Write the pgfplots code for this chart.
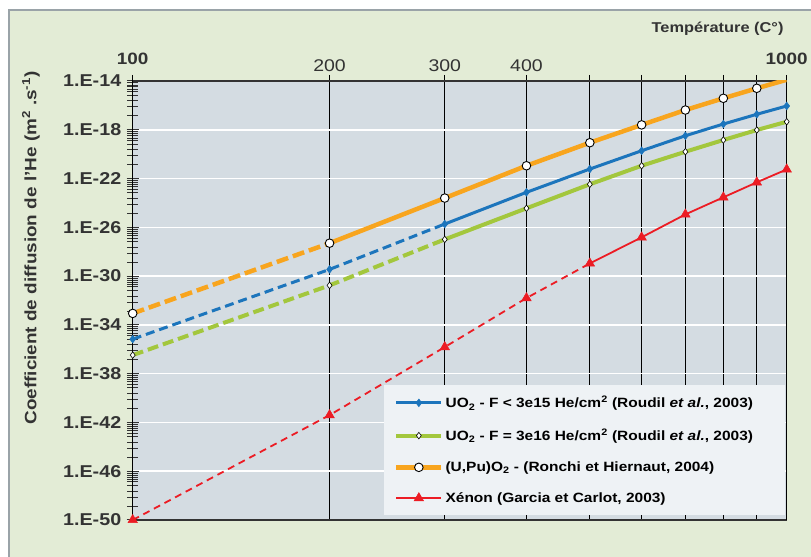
\documentclass[border=0pt]{standalone}
\usepackage{fontspec}
\setmainfont{Liberation Sans}[FakeStretch=1.15]
\usepackage{pgfplots}
\usepackage{pgfplotstable}
\pgfplotsset{compat=1.18}
\definecolor{outerbg}{HTML}{E3ECD6}
\definecolor{framegray}{HTML}{9AA3A8}
\definecolor{plotbg}{HTML}{D4DCE2}
\definecolor{legbg}{HTML}{EEF2F5}
\definecolor{axisgray}{HTML}{333333}
\definecolor{heblue}{HTML}{1C75BC}
\definecolor{hegreen}{HTML}{A3C73D}
\definecolor{heorange}{HTML}{F8A51E}
\definecolor{xered}{HTML}{EC1C24}

% log10 of D (m2/s), x in degrees C
\pgfplotstableread{
T     uo2a    uo2b    upu     xe
100   -35.17  -36.48  -33.06  -50.00
200   -29.45  -30.76  -27.30  -41.40
300   -25.73  -26.99  -23.60  -35.82
400   -23.13  -24.44  -20.95  -31.80
500   -21.22  -22.47  -19.06  -28.96
600   -19.72  -20.95  -17.60  -26.82
700   -18.49  -19.80  -16.38  -24.94
800   -17.53  -18.84  -15.42  -23.54
900   -16.73  -18.02  -14.60  -22.31
1000  -16.05  -17.34  -13.90  -21.25
}\diffdata

\begin{document}
\begin{tikzpicture}
\useasboundingbox (0,0) rectangle (811bp,557bp);
\begin{scope}
\clip (0,0) rectangle (811bp,557bp);
\fill[white] (0,0) rectangle (811bp,557bp);
\draw[fill=outerbg, draw=framegray, line width=1.5bp] (9bp,-10bp) rectangle (830bp,547bp);
\end{scope}

\begin{axis}[
  at={(132.7bp,37bp)}, anchor=south west,
  width=654bp, height=439bp, scale only axis,
  xmode=log, xmin=100, xmax=1000,
  ymin=-50, ymax=-14,
  axis background/.style={fill=plotbg},
  axis line style={axisgray, line width=1.2bp},
  tick align=center,
  major tick length=12bp, minor tick length=11bp,
  xtick={200,300,400,500,600,700,800,900},
  xticklabels={200,300,400,,,,,},
  minor xtick={},
  extra x ticks={100,1000},
  extra x tick labels={100,1000},
  extra x tick style={xticklabel style={font=\bfseries\fontsize{16.5}{18}\selectfont, yshift=7bp}},
  xtick pos=right, xticklabel pos=right,
  xticklabel style={font=\fontsize{17}{19}\selectfont, text=axisgray},
  xtick style={black, line width=1.2bp},
  xmajorgrids, x grid style={black, line width=1.2bp},
  ytick={-50,-46,...,-14},
  yticklabels={1.E-50,1.E-46,1.E-42,1.E-38,1.E-34,1.E-30,1.E-26,1.E-22,1.E-18,1.E-14},
  minor ytick={-14.16,-14.33,-14.49,-14.68,-14.88,-15.17,-15.64,-16.13,-16.87,
    -18.16,-18.33,-18.49,-18.68,-18.88,-19.17,-19.64,-20.13,-20.87,
    -22.16,-22.33,-22.49,-22.68,-22.88,-23.17,-23.64,-24.13,-24.87,
    -26.16,-26.33,-26.49,-26.68,-26.88,-27.17,-27.64,-28.13,-28.87,
    -30.16,-30.33,-30.49,-30.68,-30.88,-31.17,-31.64,-32.13,-32.87,
    -34.16,-34.33,-34.49,-34.68,-34.88,-35.17,-35.64,-36.13,-36.87,
    -38.16,-38.33,-38.49,-38.68,-38.88,-39.17,-39.64,-40.13,-40.87,
    -42.16,-42.33,-42.49,-42.68,-42.88,-43.17,-43.64,-44.13,-44.87,
    -46.16,-46.33,-46.49,-46.68,-46.88,-47.17,-47.64,-48.13,-48.87},
  ytick pos=left,
  yticklabel style={font=\bfseries\fontsize{17.2}{19}\selectfont, text=axisgray, xshift=-2bp},
  ytick style={axisgray, line width=1bp},
  ymajorgrids, y grid style={white, line width=1.5bp},
  legend cell align=left,
  legend image code/.code={\draw[mark repeat=2,mark phase=2] plot coordinates {(0bp,0bp) (22.5bp,0bp) (45bp,0bp)};},
  legend style={at={(axis description cs:1,0)}, anchor=south east, xshift=-1.5bp, yshift=5bp,
    fill=legbg, draw=none, font=\bfseries\fontsize{13.5}{15}\selectfont,
    row sep=15.5bp, inner xsep=10bp, inner ysep=9bp},
]
% lines: dashed extrapolation, solid measured range
\addplot[forget plot, heorange, line width=4.5bp, dash pattern=on 12bp off 5bp]
  table[x=T, y=upu, skip coords between index={2}{10}] {\diffdata};
\addplot[forget plot, heorange, line width=4.5bp]
  table[x=T, y=upu, skip coords between index={0}{1}] {\diffdata};
\addplot[forget plot, hegreen, line width=4bp, dash pattern=on 11bp off 5bp]
  table[x=T, y=uo2b, skip coords between index={3}{10}] {\diffdata};
\addplot[forget plot, hegreen, line width=4bp]
  table[x=T, y=uo2b, skip coords between index={0}{2}] {\diffdata};
\addplot[forget plot, heblue, line width=3bp, dash pattern=on 9bp off 5bp]
  table[x=T, y=uo2a, skip coords between index={3}{10}] {\diffdata};
\addplot[forget plot, heblue, line width=3bp]
  table[x=T, y=uo2a, skip coords between index={0}{2}] {\diffdata};
\addplot[forget plot, xered, line width=1.8bp, dash pattern=on 7bp off 5bp]
  table[x=T, y=xe, skip coords between index={5}{10}] {\diffdata};
\addplot[forget plot, xered, line width=1.8bp]
  table[x=T, y=xe, skip coords between index={0}{4}] {\diffdata};
% markers
\addplot[forget plot, only marks, mark=*, mark size=4.3bp, mark options={fill=white, draw=black, line width=0.9bp}]
  table[x=T, y=upu, skip coords between index={9}{10}] {\diffdata};
\addplot[forget plot, only marks, mark=diamond*, mark size=3.3bp, mark options={fill=white, draw=black, line width=0.6bp}]
  table[x=T, y=uo2b] {\diffdata};
\addplot[forget plot, only marks, mark=diamond*, mark size=3.8bp, mark options={fill=heblue, draw=heblue, line width=0.6bp}]
  table[x=T, y=uo2a] {\diffdata};
\addplot[forget plot, only marks, mark=triangle*, mark size=5.5bp, mark options={fill=xered, draw=xered, line width=0.5bp}]
  table[x=T, y=xe] {\diffdata};

\addlegendimage{heblue, line width=3bp, mark=diamond*, mark size=3.8bp, mark options={fill=heblue, draw=heblue, line width=0.6bp}}
\addlegendentry{UO\textsubscript{2} - F < 3e15 He/cm\textsuperscript{2} (Roudil \textit{et al.}, 2003)\hspace*{20bp}}
\addlegendimage{hegreen, line width=4bp, mark=diamond*, mark size=3.3bp, mark options={fill=white, draw=black, line width=0.6bp}}
\addlegendentry{UO\textsubscript{2} - F = 3e16 He/cm\textsuperscript{2} (Roudil \textit{et al.}, 2003)}
\addlegendimage{heorange, line width=4.5bp, mark=*, mark size=4.3bp, mark options={fill=white, draw=black, line width=0.9bp}}
\addlegendentry{(U,Pu)O\textsubscript{2} - (Ronchi et Hiernaut, 2004)}
\addlegendimage{xered, line width=1.8bp, mark=triangle*, mark size=5.5bp, mark options={fill=xered, draw=xered, line width=0.5bp}}
\addlegendentry{Xénon (Garcia et Carlot, 2003)}
\end{axis}

\node[anchor=east, font=\bfseries\fontsize{14.3}{16}\selectfont, text=axisgray] at (787bp,528bp) {Température (C°)};
\node[rotate=90, font=\bfseries\fontsize{16.5}{18}\selectfont, text=axisgray] at (31bp,309bp)
  {Coefficient de diffusion de l'He (m\textsuperscript{2} .s\textsuperscript{-1})};
\end{tikzpicture}
\end{document}
